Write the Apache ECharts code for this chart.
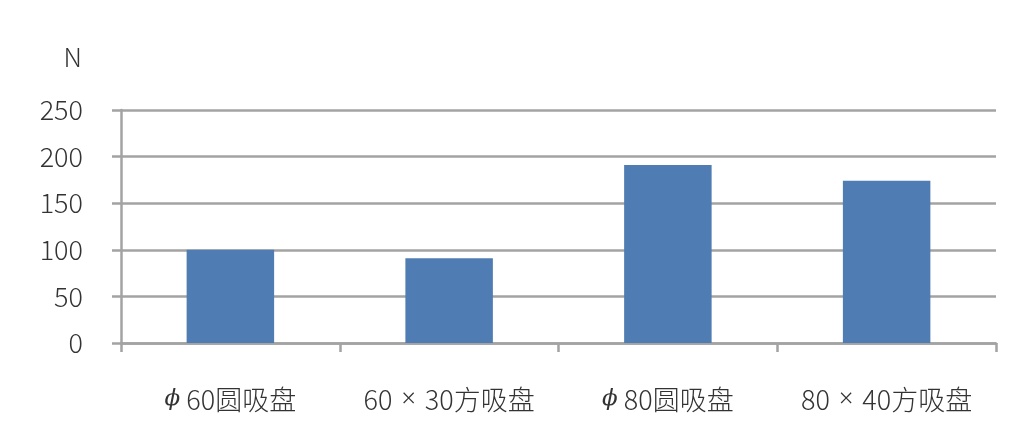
<!DOCTYPE html>
<html>
<head>
<meta charset="utf-8">
<script src="https://cdn.jsdelivr.net/npm/echarts@6/dist/echarts.min.js"></script>
<style>
    html, body { margin: 0; padding: 0; background: #fff; }
    #chart { width: 1032px; height: 436px; }
</style>
</head>
<body>
<div id="chart"></div>
<script>
// 吸盘吸力对比
const categories = ['ϕ60圆吸盘', '60 × 30方吸盘', 'ϕ80圆吸盘', '80 × 40方吸盘'];
const forces = [100, 91, 191, 174];
const yTicks = { min: 0, max: 250, interval: 50 };

const gridColor = '#a3a3a3';
const textColor = '#333333';
const fontFamily = '"Noto Sans CJK SC", "Noto Sans", sans-serif';

const chart = echarts.init(document.getElementById('chart'));

const option = {
    animation: false,
    grid: {
        left: 121,
        right: 36,
        top: 110,
        bottom: 93
    },
    xAxis: {
        type: 'category',
        data: categories,
        axisLine: { lineStyle: { color: gridColor, width: 2.5 } },
        axisTick: { show: true, interval: 0, length: 9, lineStyle: { color: gridColor, width: 2.5 } },
        axisLabel: {
            interval: 0,
            margin: 43,
            color: textColor,
            fontSize: 27,
            fontWeight: 300,
            fontFamily: fontFamily,
            // ϕ 用斜体，× 用西文字体（小一点）
            formatter: (value) => value.replace('ϕ', '{p|ϕ}').replace(' × ', '{x|×}'),
            rich: {
                p: {
                    fontFamily: '"DejaVu Serif", serif',
                    fontStyle: 'italic',
                    fontSize: 23,
                    color: textColor,
                    padding: [0, 6, 0, 0]
                },
                x: {
                    fontFamily: '"Noto Sans", sans-serif',
                    fontWeight: 300,
                    fontSize: 25,
                    color: textColor,
                    padding: [0, 9, 0, 9]
                }
            }
        }
    },
    yAxis: {
        type: 'value',
        min: yTicks.min,
        max: yTicks.max,
        interval: yTicks.interval,
        name: 'N',
        nameLocation: 'end',
        nameGap: 40,
        nameTextStyle: {
            color: textColor,
            fontSize: 26,
            fontWeight: 300,
            fontFamily: fontFamily,
            align: 'right',
            padding: [0, 39, 0, 0]
        },
        axisLine: { show: true, lineStyle: { color: gridColor, width: 2.5 } },
        axisTick: { show: true, length: 9, lineStyle: { color: gridColor, width: 2.5 } },
        axisLabel: {
            margin: 38,
            color: textColor,
            fontSize: 27,
            fontWeight: 300,
            fontFamily: fontFamily
        },
        splitLine: { show: true, lineStyle: { color: gridColor, width: 2.5 } }
    },
    series: [
        {
            type: 'bar',
            data: forces,
            barWidth: '40%',
            itemStyle: { color: '#4f7db3' }
        }
    ]
};

chart.setOption(option);
</script>
</body>
</html>
